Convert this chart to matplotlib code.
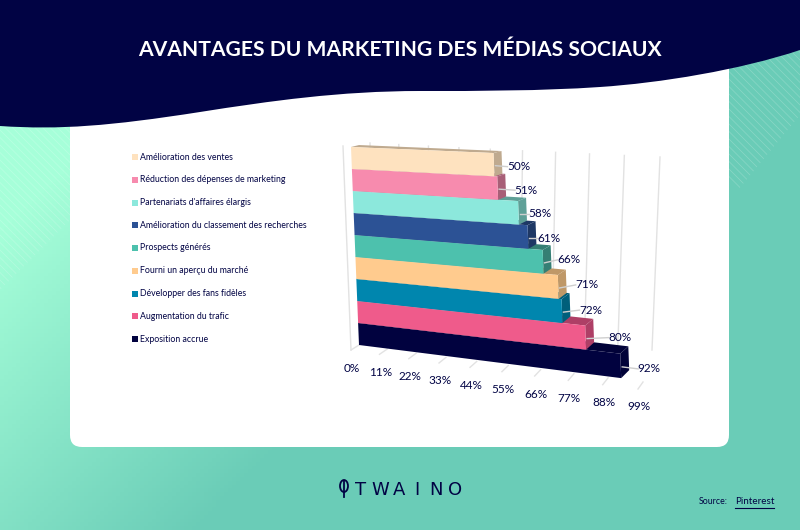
import numpy as np
import matplotlib
matplotlib.use('Agg')
import matplotlib.pyplot as plt
from matplotlib.patches import FancyBboxPatch, PathPatch, Polygon, Rectangle, Ellipse
from matplotlib.path import Path
from matplotlib import colors

# bottom row first
categories = ['Exposition accrue', 'Augmentation du trafic', 'Développer des fans fidèles',
              'Fourni un aperçu du marché', 'Prospects générés',
              'Amélioration du classement des recherches', "Partenariats d'affaires élargis",
              'Réduction des dépenses de marketing', 'Amélioration des ventes']
values = [92, 80, 72, 71, 66, 61, 58, 51, 50]
front_colors = ['#01023f', '#ef5b8b', '#0086ae', '#ffcb8e', '#4dc1ad',
                '#2c5295', '#8ce8dc', '#f78bae', '#fee2bf']
side_colors = ['#010238', '#ae3f66', '#005f7b', '#bf9868', '#357f74',
               '#1e3865', '#5fa097', '#a85f77', '#bfaa8f']
tick_values = [0, 11, 22, 33, 44, 55, 66, 77, 88, 99]

NAVY = '#010344'
body_font = 'Lato'

# label offset from the end of the bar (layout only)
label_dx = [27, 33, 27, 27, 24, 20, 20, 27, 23]
label_dy = [5, 2, 1, 0, 0, 3, 3, 4, 4]


def project(v, h):
    # front plane of the bars: bilinear from value / row to pixels
    t = v / 100.0
    s = h / 9.0
    x = (1-s)*((1-t)*359 + t*644) + s*((1-t)*351 + t*636)
    y = (1-s)*((1-t)*345 + t*381) + s*((1-t)*147 + t*159)
    return x, y


def depth(h):
    return 8, -(8 - 0.67*h)


def curve(t):
    return 0.88*t + 0.12*t*t


fig = plt.figure(figsize=(8, 5.3), dpi=100)
ax = fig.add_axes([0, 0, 1, 1])
ax.set_xlim(0, 800)
ax.set_ylim(530, 0)
ax.axis('off')

# background gradient
xx, yy = np.meshgrid(np.linspace(0, 800, 200), np.linspace(0, 530, 140))
grad = np.clip((xx + yy - 230) / 500.0, 0, 1)
cmap = colors.LinearSegmentedColormap.from_list('bg', ['#a6ffd9', '#6accb7'])
ax.imshow(grad, extent=[0, 800, 530, 0], cmap=cmap, aspect='auto', zorder=0, vmin=0, vmax=1)

# diagonal stripes
for poly in ([(0, 120), (75, 120), (75, 215), (0, 290)],
             [(725, 60), (800, 40), (800, 115), (738, 190), (725, 180)]):
    clip = Polygon(poly, closed=True, transform=ax.transData, fc='none', ec='none')
    ax.add_patch(clip)
    for c in np.arange(-800, 800, 7.5):
        l, = ax.plot([0, 800], [c, c + 800], color='white', lw=0.5, alpha=0.22, zorder=1)
        l.set_clip_path(clip)
ax.set_xlim(0, 800)
ax.set_ylim(530, 0)

# white card
ax.add_patch(FancyBboxPatch((82, 40), 635, 395, boxstyle='round,pad=12,rounding_size=12',
                            fc='white', ec='none', zorder=2))

# header wave
verts = [(0, 0), (800, 0), (800, 50),
         (740, 70), (660, 83), (600, 87),
         (540, 91), (480, 91), (420, 91),
         (340, 91), (270, 101), (200, 112),
         (110, 126), (60, 130), (0, 126), (0, 0)]
codes = [Path.MOVETO, Path.LINETO, Path.LINETO] + [Path.CURVE4]*12 + [Path.CLOSEPOLY]
ax.add_patch(PathPatch(Path(verts, codes), fc=NAVY, ec='none', zorder=3))
ax.text(400, 50, 'AVANTAGES DU MARKETING DES MÉDIAS SOCIAUX', color='white', fontsize=15.2,
        fontweight='bold', family='Lato', ha='center', va='center', zorder=4)

# gridlines on the wall, floor ticks
ax.plot([343, 351], [146, 350], color='#e2e2e2', lw=1, zorder=5)
for tv in tick_values:
    t = tv / 99.0
    top_x = 370 + 290*curve(t)
    top_y = 143 + 14*t
    ax.plot([top_x, top_x + 5 - 13*t], [top_y, 322 + 28*t], color='#e2e2e2', lw=1, zorder=5)
    fx = 351 + 287*curve(t)
    fy = 350 + 39*t
    ax.plot([fx, fx + 8 - 3*t], [fy, fy - 5 - 2*t], color='#e2e2e2', lw=1, zorder=5)
    ax.text(fx + 1, fy + 18, '%d%%' % tv, color=NAVY, fontsize=8.5, family=body_font,
            ha='center', va='center', zorder=9)

# bars, bottom row first so upper fronts sit over lower tops
for i, v in enumerate(values):
    a = project(0, i)
    b = project(v, i)
    c = project(v, i+1)
    d = project(0, i+1)
    dx, dy = depth(i+1)
    dx0, dy0 = depth(i)
    z = 6 + i*0.1
    ax.add_patch(Polygon([d, c, (c[0]+dx, c[1]+dy), (d[0]+dx, d[1]+dy)], fc=side_colors[i], ec='none', zorder=z))
    ax.add_patch(Polygon([b, c, (c[0]+dx, c[1]+dy), (b[0]+dx0, b[1]+dy0)], fc=side_colors[i], ec='none', zorder=z))
    ax.add_patch(Polygon([a, b, c, d], fc=front_colors[i], ec='none', zorder=z+0.01))

    # value label with its leader line
    mx = b[0] + 1
    my = (b[1] + c[1]) / 2.0 + 1
    lx = mx + label_dx[i]
    ly = my + label_dy[i] - 3
    ax.plot([mx, lx - 11], [my, ly], color='#cfcfcf', lw=1, zorder=8)
    ax.text(lx, ly, '%d%%' % v, color=NAVY, fontsize=8.5, family=body_font,
            ha='center', va='center', zorder=9)

# legend
for i, name in enumerate(categories):
    y = 339 - 22.75*i
    ax.add_patch(Rectangle((132, y - 3), 6, 6, fc=front_colors[i], ec='none', zorder=6))
    ax.text(140, y, name, color=NAVY, fontsize=6.35, family=body_font, va='center', ha='left', zorder=6)

# logo
ax.add_patch(Ellipse((344, 486), 8, 12, fc='none', ec=NAVY, lw=1.3, zorder=6))
ax.plot([344, 344], [481, 497], color=NAVY, lw=1.3, zorder=6)
for ch, x in zip('TWAINO', [361, 380, 399, 417, 436, 455]):
    ax.text(x, 490, ch, color=NAVY, fontsize=13, family='DejaVu Sans', ha='center', va='center', zorder=6)

# source
ax.text(699, 502, 'Source:', color=NAVY, fontsize=6.3, family=body_font, ha='left', va='center', zorder=6)
ax.text(735, 502, 'Pinterest', color=NAVY, fontsize=7.1, family=body_font, ha='left', va='center', zorder=6)
ax.plot([735, 774], [507.5, 507.5], color=NAVY, lw=0.8, zorder=6)

plt.savefig('out.png', dpi=100)
